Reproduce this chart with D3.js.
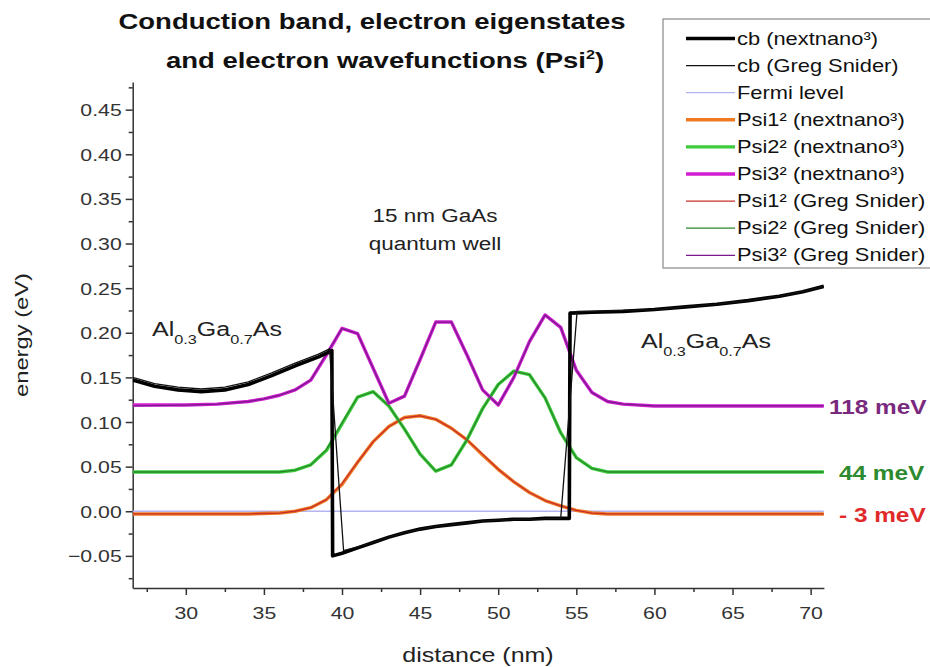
<!DOCTYPE html>
<html lang="en">
<head>
<meta charset="UTF-8">
<title>Conduction band, electron eigenstates and electron wavefunctions</title>
<script src="https://cdnjs.cloudflare.com/ajax/libs/d3/7.8.5/d3.min.js"></script>
<style>
  body { margin: 0; background: #fff; }
  svg { display: block; font-family: "Liberation Sans", Arial, sans-serif; }
  .axis path, .axis line { stroke: #333; stroke-width: 1.5; }
  .axis text { fill: #333; font-size: 17px; }
</style>
</head>
<body>
<div id="chart"></div>
<script>
// conduction band, [distance nm, energy eV]
const cbNextnano = [
  [26.6, 0.147], [28, 0.140], [29.5, 0.136], [31, 0.134], [32.5, 0.136], [34, 0.142],
  [35.5, 0.152], [37, 0.163], [38.5, 0.173], [39.35, 0.180], [39.4, -0.050],
  [40, -0.047], [41, -0.041], [42, -0.035], [43, -0.029], [44, -0.024], [45, -0.020],
  [46, -0.017], [47, -0.015], [48, -0.013], [49, -0.011], [50, -0.010], [51, -0.009],
  [52, -0.009], [53, -0.008], [54.55, -0.008], [54.6, 0.222], [56, 0.223], [58, 0.224],
  [60, 0.226], [62, 0.229], [64, 0.232], [66, 0.236], [68, 0.241], [69.5, 0.246], [70.85, 0.252]
];
const cbSnider = [
  [26.6, 0.150], [28, 0.143], [29.5, 0.139], [31, 0.137], [32.5, 0.139], [34, 0.145],
  [35.5, 0.155], [37, 0.166], [38.5, 0.176], [39.2, 0.182], [40.1, -0.044],
  [41, -0.040], [42, -0.035], [43, -0.029], [44, -0.024], [45, -0.020], [46, -0.017],
  [47, -0.015], [48, -0.013], [49, -0.011], [50, -0.010], [51, -0.009], [52, -0.009],
  [54, -0.008], [55.05, 0.224], [56, 0.224], [58, 0.225], [60, 0.226], [62, 0.229],
  [64, 0.232], [66, 0.236], [68, 0.241], [69.5, 0.246], [70.85, 0.252]
];
const fermiLevel = [[26.6, 0], [70.85, 0]];

// wavefunctions (Psi^2 shifted to eigenenergy)
const psi1Nextnano = [
  [26.6, -0.003], [34, -0.003], [36, -0.002], [37, 0.000], [38, 0.004], [39, 0.013],
  [40, 0.030], [41, 0.055], [42, 0.078], [43, 0.095], [44, 0.105], [45, 0.107],
  [46, 0.103], [47, 0.093], [48, 0.080], [49, 0.063], [50, 0.047], [51, 0.033],
  [52, 0.021], [53, 0.012], [54, 0.006], [55, 0.001], [56, -0.002], [57, -0.003], [70.85, -0.003]
];
const psi2Nextnano = [
  [26.6, 0.044], [36, 0.044], [37, 0.046], [38, 0.052], [39, 0.068], [40, 0.098],
  [41, 0.128], [42, 0.134], [43, 0.118], [44, 0.092], [45, 0.064], [46, 0.045],
  [47, 0.052], [48, 0.080], [49, 0.115], [50, 0.142], [51, 0.157], [52, 0.153],
  [53, 0.127], [54, 0.088], [55, 0.060], [56, 0.048], [57, 0.044], [70.85, 0.044]
];
const psi3Nextnano = [
  [26.6, 0.119], [30, 0.119], [32, 0.120], [34, 0.123], [35, 0.126], [36, 0.130],
  [37, 0.136], [38, 0.147], [39, 0.175], [40, 0.205], [41, 0.199], [42, 0.160],
  [43, 0.121], [44, 0.129], [45, 0.170], [46, 0.212], [47, 0.212], [48, 0.175],
  [49, 0.136], [50, 0.119], [51, 0.150], [52, 0.190], [53, 0.220], [54, 0.206],
  [55, 0.158], [56, 0.133], [57, 0.123], [58, 0.120], [60, 0.118], [70.85, 0.118]
];
const psi1Snider = [
  [26.6, -0.003], [34, -0.003], [36, -0.002], [37, 0.000], [38, 0.004], [39, 0.013],
  [40, 0.031], [41, 0.055], [42, 0.078], [43, 0.095], [44, 0.105], [45, 0.107],
  [46, 0.103], [47, 0.093], [48, 0.080], [49, 0.064], [50, 0.047], [51, 0.033],
  [52, 0.021], [53, 0.012], [54, 0.006], [55, 0.001], [56, -0.002], [57, -0.003], [70.85, -0.003]
];
const psi2Snider = [
  [26.6, 0.044], [36, 0.044], [37, 0.046], [38, 0.052], [39, 0.069], [40, 0.099],
  [41, 0.128], [42, 0.134], [43, 0.118], [44, 0.092], [45, 0.064], [46, 0.045],
  [47, 0.052], [48, 0.080], [49, 0.115], [50, 0.142], [51, 0.157], [52, 0.153],
  [53, 0.127], [54, 0.088], [55, 0.060], [56, 0.048], [57, 0.044], [70.85, 0.044]
];
const psi3Snider = [
  [26.6, 0.118], [30, 0.119], [32, 0.120], [34, 0.123], [35, 0.126], [36, 0.130],
  [37, 0.136], [38, 0.147], [39, 0.176], [40, 0.205], [41, 0.199], [42, 0.160],
  [43, 0.121], [44, 0.129], [45, 0.170], [46, 0.212], [47, 0.212], [48, 0.175],
  [49, 0.136], [50, 0.119], [51, 0.150], [52, 0.190], [53, 0.220], [54, 0.206],
  [55, 0.158], [56, 0.133], [57, 0.123], [58, 0.120], [60, 0.118], [70.85, 0.118]
];

const xMajorTicks = [30, 35, 40, 45, 50, 55, 60, 65, 70];
const xMinorTicks = [27.5, 32.5, 37.5, 42.5, 47.5, 52.5, 57.5, 62.5, 67.5];
const yMajorTicks = [-0.05, 0, 0.05, 0.1, 0.15, 0.2, 0.25, 0.3, 0.35, 0.4, 0.45];
const yMinorTicks = [-0.075, -0.025, 0.025, 0.075, 0.125, 0.175, 0.225, 0.275, 0.325, 0.375, 0.425, 0.475];

const seriesNames = ['cb (nextnano³)', 'cb (Greg Snider)', 'Fermi level',
  'Psi1² (nextnano³)', 'Psi2² (nextnano³)', 'Psi3² (nextnano³)',
  'Psi1² (Greg Snider)', 'Psi2² (Greg Snider)', 'Psi3² (Greg Snider)'];
const seriesData = [cbNextnano, cbSnider, fermiLevel,
  psi1Nextnano, psi2Nextnano, psi3Nextnano, psi1Snider, psi2Snider, psi3Snider];
const seriesColors = ['#000', '#111', '#b4b4f0', '#f07a22', '#3ccc3c', '#d21ed2', '#c8302a', '#2a8a2a', '#7a1a8c'];
const seriesWidths = [3.6, 1.3, 1.3, 3.4, 3.4, 3.4, 1.3, 1.3, 1.3];

const levelLabels = ['118 meV', '44 meV', '- 3 meV'];
const levelValues = [0.118, 0.044, -0.003];
const levelColors = ['#7a2a7e', '#2e8a2e', '#e02a2a'];

const SX = 1.25; // text in the original is horizontally stretched
const W = 930, H = 667;
const margin = { left: 132.7, right: W - 823.9, top: 82, bottom: H - 588 };

const svg = d3.select('#chart').append('svg').attr('width', W).attr('height', H);

const x = d3.scaleLinear().domain([26.6, 70.85]).range([margin.left, W - margin.right]);
const y = d3.scaleLinear().domain([-0.086, 0.481]).range([H - margin.bottom, margin.top]);

function stretched(parent, tx, ty, size, weight, anchor) {
  return parent.append('text')
    .attr('transform', `translate(${tx},${ty}) scale(${SX},1)`)
    .attr('font-size', size)
    .attr('font-weight', weight || 'normal')
    .attr('text-anchor', anchor || 'start');
}

// title
stretched(svg, 372, 29, 22, 'bold', 'middle').attr('fill', '#111')
  .text('Conduction band, electron eigenstates');
const t2 = stretched(svg, 385, 68, 22, 'bold', 'middle').attr('fill', '#111');
t2.append('tspan').text('and electron wavefunctions (Psi');
t2.append('tspan').attr('font-size', 13).attr('dy', -9).text('2');
t2.append('tspan').attr('dy', 9).text(')');

// axes
const yAxis = svg.append('g').attr('class', 'axis')
  .attr('transform', `translate(${margin.left},0)`)
  .call(d3.axisLeft(y).tickValues(yMajorTicks).tickSize(7).tickSizeOuter(0).tickFormat(d3.format('.2f')));
svg.append('g').attr('class', 'axis')
  .attr('transform', `translate(${margin.left},0)`)
  .call(d3.axisLeft(y).tickValues(yMinorTicks).tickSize(4).tickSizeOuter(0).tickFormat(''))
  .select('.domain').remove();
yAxis.selectAll('.tick text').attr('x', 0).attr('dy', null)
  .attr('transform', `translate(-11,6) scale(${SX},1)`);

const xAxis = svg.append('g').attr('class', 'axis')
  .attr('transform', `translate(0,${H - margin.bottom})`)
  .call(d3.axisBottom(x).tickValues(xMajorTicks).tickSize(7).tickSizeOuter(0));
svg.append('g').attr('class', 'axis')
  .attr('transform', `translate(0,${H - margin.bottom})`)
  .call(d3.axisBottom(x).tickValues(xMinorTicks).tickSize(4).tickSizeOuter(0).tickFormat(''))
  .select('.domain').remove();
xAxis.selectAll('.tick text').attr('y', 0).attr('dy', null)
  .attr('transform', `translate(0,31) scale(${SX},1)`);

stretched(svg, 478, 662, 20, 'normal', 'middle').attr('fill', '#222').text('distance (nm)');
svg.append('text')
  .attr('transform', `translate(28,335) rotate(-90) scale(${SX},1)`)
  .attr('font-size', 19).attr('text-anchor', 'middle').attr('fill', '#222')
  .text('energy (eV)');

// curves
svg.append('clipPath').attr('id', 'plot-clip').append('rect')
  .attr('x', margin.left).attr('y', margin.top)
  .attr('width', W - margin.left - margin.right).attr('height', H - margin.top - margin.bottom);
const line = d3.line().x(d => x(d[0])).y(d => y(d[1]));
const plot = svg.append('g').attr('clip-path', 'url(#plot-clip)');
const drawOrder = [2, 3, 4, 5, 6, 7, 8, 0, 1];
drawOrder.forEach(i => {
  plot.append('path')
    .attr('d', line(seriesData[i]))
    .attr('fill', 'none')
    .attr('stroke', seriesColors[i])
    .attr('stroke-width', seriesWidths[i])
    .attr('stroke-linejoin', 'round');
});

// annotations
stretched(svg, 435, 222, 18, 'normal', 'middle').attr('fill', '#222').text('15 nm GaAs');
stretched(svg, 435, 250, 18, 'normal', 'middle').attr('fill', '#222').text('quantum well');

function alGaAs(tx, ty) {
  const t = stretched(svg, tx, ty, 20, 'normal', 'start').attr('fill', '#222');
  t.append('tspan').text('Al');
  t.append('tspan').attr('font-size', 13).attr('dy', 8).text('0.3');
  t.append('tspan').attr('dy', -8).text('Ga');
  t.append('tspan').attr('font-size', 13).attr('dy', 8).text('0.7');
  t.append('tspan').attr('dy', -8).text('As');
}
alGaAs(152, 336);
alGaAs(641, 348);

levelLabels.forEach((lbl, i) => {
  stretched(svg, 829 + (i ? 10 : 0), y(levelValues[i]) + 8, 19.5, 'bold', 'start')
    .attr('fill', levelColors[i]).text(lbl);
});

// legend
const legend = svg.append('g');
legend.append('rect').attr('x', 663).attr('y', 19).attr('width', 280).attr('height', 249)
  .attr('fill', '#fff').attr('stroke', '#888').attr('stroke-width', 1.2);
seriesNames.forEach((name, i) => {
  const ly = 38.5 + i * 27.1;
  legend.append('line').attr('x1', 686).attr('x2', 735).attr('y1', ly).attr('y2', ly)
    .attr('stroke', seriesColors[i]).attr('stroke-width', seriesWidths[i]);
  stretched(legend, 737, ly + 6, 17.5, 'normal', 'start').attr('fill', '#111').text(name);
});
</script>
</body>
</html>
